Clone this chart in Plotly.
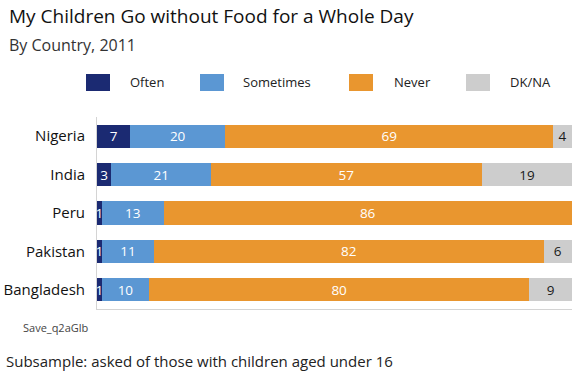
import plotly.graph_objects as go

countries = ["Nigeria", "India", "Peru", "Pakistan", "Bangladesh"]
often = [7, 3, 1, 1, 1]
sometimes = [20, 21, 13, 11, 10]
never = [69, 57, 86, 82, 80]
dkna = [4, 19, 0, 6, 9]

series_names = ["Often", "Sometimes", "Never", "DK/NA"]
series_values = [often, sometimes, never, dkna]
colors = ["#1b2a72", "#5b97d3", "#e9962f", "#cdcdcd"]
text_colors = ["white", "white", "white", "#1a1a1a"]

FONT = "Open Sans"
W, H = 575, 372
L, R, T, B = 97, 3, 117, 63

def fx(px):
    return (px - L) / (W - L - R)

def fy(py):
    return (H - B - py) / (H - T - B)

fig = go.Figure()
for name, vals, c, tc in zip(series_names, series_values, colors, text_colors):
    fig.add_trace(go.Bar(
        y=countries, x=vals, name=name, orientation="h",
        marker=dict(color=c, line=dict(width=0)),
        text=[str(v) if v else "" for v in vals],
        textposition="inside", insidetextanchor="middle", textangle=0,
        textfont=dict(family=FONT, size=13.5, color=tc),
        showlegend=False,
    ))

annotations = [
    dict(text="My Children Go without Food for a Whole Day", x=fx(7), y=fy(16),
         xanchor="left", yanchor="middle", font=dict(family=FONT, size=19, color="#111")),
    dict(text="By Country, 2011", x=fx(7), y=fy(45),
         xanchor="left", yanchor="middle", font=dict(family=FONT, size=16, color="#333")),
    dict(text="Save_q2aGlb", x=fx(21), y=fy(327),
         xanchor="left", yanchor="middle", font=dict(family=FONT, size=11, color="#444")),
    dict(text="Subsample: asked of those with children aged under 16", x=fx(4), y=fy(361),
         xanchor="left", yanchor="middle", font=dict(family=FONT, size=15, color="#222")),
]
shapes = []
legend_sq = [86, 200, 349, 466]
legend_tx = [128, 241, 392, 508]
for name, c, sx, tx in zip(series_names, colors, legend_sq, legend_tx):
    shapes.append(dict(type="rect", xref="paper", yref="paper",
                       x0=fx(sx), x1=fx(sx + 24), y0=fy(91), y1=fy(74),
                       fillcolor=c, line=dict(width=0)))
    annotations.append(dict(text=name, x=fx(tx), y=fy(82), xanchor="left", yanchor="middle",
                            font=dict(family=FONT, size=13, color="#222")))
for a in annotations:
    a.update(xref="paper", yref="paper", showarrow=False)

fig.update_layout(
    barmode="stack", bargap=0.4,
    width=W, height=H, margin=dict(l=L, r=R, t=T, b=B, autoexpand=False),
    paper_bgcolor="white", plot_bgcolor="white",
    annotations=annotations, shapes=shapes,
    uniformtext=dict(minsize=13, mode="show"),
    xaxis=dict(range=[0, 100], showgrid=False, zeroline=False, showticklabels=False,
               showline=True, linecolor="#d4d4d4", linewidth=1, fixedrange=True),
    yaxis=dict(autorange="reversed", showgrid=False, zeroline=False,
               showline=True, linecolor="#d4d4d4", linewidth=1, ticks="",
               ticklabelstandoff=8,
               tickfont=dict(family=FONT, size=15, color="#111")),
)

fig.write_html("out.html", config={"displayModeBar": False},
               post_script="document.body.style.margin='0';document.body.style.padding='0';")
